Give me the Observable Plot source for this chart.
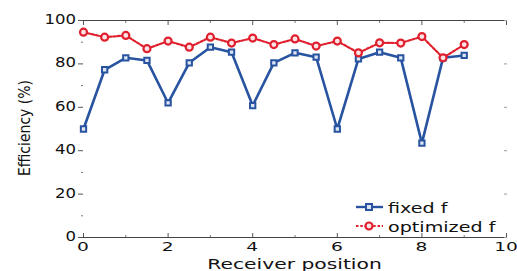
<!DOCTYPE html>
<html>
<head>
<meta charset="utf-8">
<script src="https://cdn.jsdelivr.net/npm/d3@7"></script>
<script src="https://cdn.jsdelivr.net/npm/@observablehq/plot@0.6"></script>
<style>
  html, body { margin: 0; padding: 0; background: #fff; }
  #chart svg { display: block; }
</style>
</head>
<body>
<div id="chart"></div>
<script>
const positions = [0, 0.5, 1, 1.5, 2, 2.5, 3, 3.5, 4, 4.5, 5, 5.5, 6, 6.5, 7, 7.5, 8, 8.5, 9];
const fixedF = [50, 77.3, 82.8, 81.6, 62, 80.5, 87.7, 85.4, 60.8, 80.5, 85.1, 83.1, 50, 82.3, 85.4, 82.8, 43.5, 82.8, 83.9];
const optimizedF = [94.6, 92.3, 93.1, 87, 90.5, 87.7, 92.3, 89.6, 91.9, 88.9, 91.5, 88.2, 90.5, 85.1, 89.7, 89.6, 92.6, 82.8, 88.9];
const xTicks = [0, 2, 4, 6, 8, 10];
const xMinorTicks = [1, 3, 5, 7, 9];
const yTicks = [0, 20, 40, 60, 80, 100];
const yMinorTicks = [10, 30, 50, 70, 90];
const seriesNames = ["fixed f", "optimized f"];
const xLabel = "Receiver position";
const yLabel = "Efficiency (%)";

const blue = "#2753a0";
const red = "#e0202e";
const font = "DejaVu Sans";

const fixedData = positions.map((x, i) => ({x, y: fixedF[i]}));
const optData = positions.map((x, i) => ({x, y: optimizedF[i]}));

const chart = Plot.plot({
  width: 517,
  height: 271,
  marginLeft: 83,
  marginRight: 11,
  marginTop: 20,
  marginBottom: 34,
  style: {fontFamily: font, background: "#fff", overflow: "visible"},
  x: {type: "linear", domain: [0, 10], axis: null},
  y: {type: "linear", domain: [0, 100], axis: null},
  marks: [
    Plot.ruleY([0, 100], {stroke: "#444", strokeWidth: 1.2}),
    Plot.axisY({ticks: yTicks, tickSize: 5, stroke: "#555", tickFormat: () => "", label: null}),
    Plot.axisY({ticks: yMinorTicks, tickSize: 2, stroke: "#777", tickFormat: () => "", label: null}),
    Plot.axisY({anchor: "right", ticks: yTicks, tickSize: -3, stroke: "#999", tickFormat: () => "", label: null}),
    Plot.axisX({ticks: xTicks, tickSize: -4, stroke: "#555", tickFormat: () => "", label: null}),
    Plot.axisX({ticks: xMinorTicks, tickSize: -2, stroke: "#777", tickFormat: () => "", label: null}),
    Plot.axisX({anchor: "top", ticks: xTicks, tickSize: -4, stroke: "#555", tickFormat: () => "", label: null}),
    Plot.axisX({anchor: "top", ticks: xMinorTicks, tickSize: -2, stroke: "#777", tickFormat: () => "", label: null}),
    Plot.line(fixedData, {x: "x", y: "y", stroke: blue, strokeWidth: 2.6}),
    Plot.dot(fixedData, {x: "x", y: "y", symbol: "square", r: 3, stroke: blue, strokeWidth: 2, fill: "#dfe6f3"}),
    Plot.line(optData, {x: "x", y: "y", stroke: red, strokeWidth: 2.2, strokeDasharray: "2.5,1.8"}),
    Plot.dot(optData, {x: "x", y: "y", symbol: "circle", r: 3.5, stroke: red, strokeWidth: 2.2, fill: "#fbe4e6"}),
  ]
});

const sx = chart.scale("x");
const sy = chart.scale("y");
const svg = d3.select(chart);

function stretchedText(g, x, y, str, size, scaleX, anchor, extra) {
  const t = g.append("text")
    .attr("transform", `translate(${x},${y}) scale(${scaleX},1)`)
    .attr("text-anchor", anchor)
    .attr("font-family", font)
    .attr("font-size", size)
    .attr("fill", "#111")
    .text(str);
  if (extra) extra(t);
  return t;
}

const labels = svg.append("g");
// y tick labels
yTicks.forEach(v => {
  stretchedText(labels, 76, sy.apply(v) - 1, String(v), 14, 1.18, "end", t => t.attr("dy", "0.36em"));
});
// x tick labels
xTicks.forEach(v => {
  stretchedText(labels, sx.apply(v), 251, String(v), 12, 1.55, "middle");
});
// axis titles
stretchedText(labels, 294.5, 269, xLabel, 14.5, 1.4, "middle");
labels.append("text")
  .attr("transform", "translate(30,128) rotate(-90) scale(1,1.15)")
  .attr("text-anchor", "middle")
  .attr("font-family", font).attr("font-size", 14)
  .attr("fill", "#111")
  .text(yLabel);

// legend
const legend = svg.append("g");
const rows = [
  {name: seriesNames[0], color: blue, dash: null, sym: "square", yy: 207},
  {name: seriesNames[1], color: red, dash: "2.5,1.8", sym: "circle", yy: 226}
];
rows.forEach(r => {
  legend.append("line").attr("x1", 356).attr("x2", 383).attr("y1", r.yy).attr("y2", r.yy)
    .attr("stroke", r.color).attr("stroke-width", r.sym === "square" ? 2.4 : 2.2)
    .attr("stroke-dasharray", r.dash);
  if (r.sym === "square") {
    legend.append("rect").attr("x", 366).attr("y", r.yy - 3).attr("width", 6).attr("height", 6)
      .attr("fill", "#dfe6f3").attr("stroke", r.color).attr("stroke-width", 2);
  } else {
    legend.append("circle").attr("cx", 369).attr("cy", r.yy).attr("r", 3.5)
      .attr("fill", "#fbe4e6").attr("stroke", r.color).attr("stroke-width", 2.2);
  }
  stretchedText(legend, 388, r.yy + 5.5, r.name, 14.5, 1.32, "start");
});

document.getElementById("chart").appendChild(chart);
</script>
</body>
</html>
